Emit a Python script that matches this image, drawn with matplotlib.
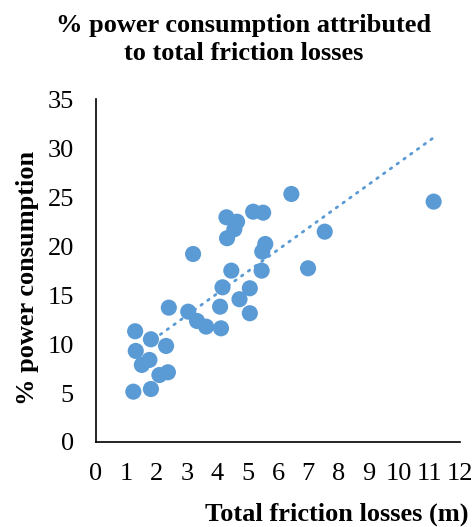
import numpy as np
import matplotlib
matplotlib.use("Agg")
import matplotlib.pyplot as plt

# values
friction_loss = [1.23, 1.81, 2.09, 2.37, 1.51, 1.76, 1.31, 2.31, 1.81, 1.29,
                 2.40, 3.04, 3.33, 3.63, 4.12, 4.09, 4.17, 4.46, 4.73, 5.07,
                 5.07, 5.46, 5.48, 5.58, 3.20, 4.32, 4.56, 4.65, 4.30, 5.18,
                 5.51, 6.44, 7.54, 6.99, 11.13]
power_pct = [5.14, 5.41, 6.84, 7.12, 7.87, 8.38, 9.30, 9.81, 10.49, 11.31,
             13.72, 13.31, 12.36, 11.78, 11.61, 13.82, 15.80, 17.50, 14.58, 15.70,
             13.15, 17.50, 19.44, 20.22, 19.20, 20.81, 21.73, 22.50, 22.95, 23.52,
             23.42, 25.33, 21.48, 17.74, 24.55]

x_ticks = list(range(0, 13))
y_ticks = list(range(0, 36, 5))

blue = "#5B9BD5"
plt.rcParams["font.family"] = ["Liberation Serif", "DejaVu Serif"]

fig = plt.figure(figsize=(4.77, 5.27), dpi=100)
ax = fig.add_axes([0.2013, 0.1613, 0.7631, 0.6503])

x = np.array(friction_loss)
y = np.array(power_pct)
ax.scatter(x, y, s=135, color=blue, edgecolors="none", zorder=3)

# linear trendline over the data range
slope, intercept = np.polyfit(x, y, 1)
xt = np.array([x.min(), x.max()])
ax.plot(xt, slope * xt + intercept, color=blue, lw=2.0,
        linestyle=(0, (0.6, 2.4)), dash_capstyle="round", zorder=4)

ax.set_xlim(0, 12)
ax.set_ylim(0, 35)
ax.set_xticks(x_ticks)
ax.set_yticks(y_ticks)
ax.tick_params(axis="x", length=0, pad=15, labelsize=19)
ax.tick_params(axis="y", length=0, pad=16, labelsize=19)
for side in ["top", "right"]:
    ax.spines[side].set_visible(False)
for side in ["left", "bottom"]:
    ax.spines[side].set_linewidth(1.2)
    ax.spines[side].set_color("black")

fig.text(0.511, 0.925, "% power consumption attributed\nto total friction losses",
         ha="center", va="center", fontsize=19, fontweight="bold", linespacing=1.3)
fig.text(0.705, 0.025, "Total friction losses (m)", ha="center", va="center",
         fontsize=19, fontweight="bold")
fig.text(0.057, 0.472, "% power consumption", ha="center", va="center",
         rotation=90, fontsize=19, fontweight="bold")

fig.savefig("out.png", dpi=100)
